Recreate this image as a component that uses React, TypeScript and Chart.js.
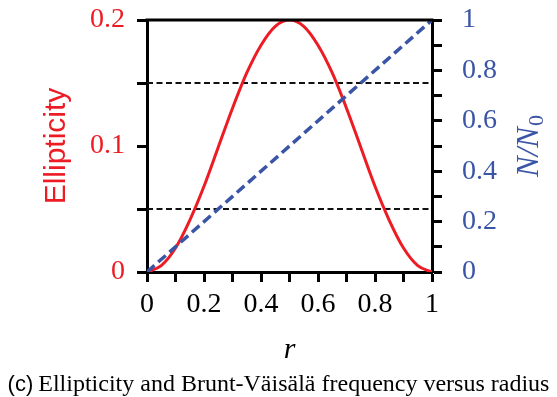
import { useEffect, useRef } from "react";
import { Chart, registerables } from "chart.js";

Chart.register(...registerables);

// ---- data ----
const radius = [0, 0.05, 0.1, 0.15, 0.2, 0.25, 0.3, 0.35, 0.4, 0.45, 0.5, 0.55, 0.6, 0.65, 0.7, 0.75, 0.8, 0.85, 0.9, 0.95, 1];
const ellipticity = [0, 0.005, 0.019, 0.041, 0.068, 0.099, 0.130, 0.158, 0.180, 0.195, 0.2, 0.195, 0.180, 0.158, 0.130, 0.099, 0.068, 0.041, 0.019, 0.005, 0];
const freqRadius = [0, 1];
const freqValues = [0, 1];
const refLevels = [0.05, 0.15];

const xLabels = ["0", "0.2", "0.4", "0.6", "0.8", "1"];
const leftLabels = ["0", "0.1", "0.2"];
const rightLabels = ["0", "0.2", "0.4", "0.6", "0.8", "1"];

const captionTag = "(c)";
const captionText = "Ellipticity and Brunt-Väisälä frequency versus radius";

const RED = "#ed1c24";
const BLUE = "#3b55a6";
const SERIF = "'Liberation Serif', 'DejaVu Serif', serif";
const SANS = "'Liberation Sans', Arial, sans-serif";

function fmt(v: number, labels: string[]) {
  const s = String(Math.round(v * 1000) / 1000);
  return labels.includes(s) ? s : "";
}

const titlesPlugin = {
  id: "titles",
  afterDraw(chart: any) {
    const { ctx, chartArea } = chart;
    const { left, right, top, bottom } = chartArea;
    const cy = (top + bottom) / 2;
    ctx.save();
    // top frame line
    ctx.strokeStyle = "#000";
    ctx.lineWidth = 3;
    ctx.beginPath();
    ctx.moveTo(left - 1.5, top);
    ctx.lineTo(right + 1.5, top);
    ctx.stroke();

    // left title
    ctx.save();
    ctx.translate(left - 90, cy);
    ctx.rotate(-Math.PI / 2);
    ctx.fillStyle = RED;
    ctx.font = `30px ${SANS}`;
    ctx.textAlign = "center";
    ctx.textBaseline = "middle";
    ctx.fillText("Ellipticity", 0, 0);
    ctx.restore();

    // right title N/N0
    ctx.save();
    ctx.translate(right + 96, cy);
    ctx.rotate(-Math.PI / 2);
    ctx.fillStyle = BLUE;
    const mainFont = `italic 31px ${SERIF}`;
    const subFont = `22px ${SERIF}`;
    ctx.font = mainFont;
    const wMain = ctx.measureText("N/N").width;
    ctx.font = subFont;
    const wSub = ctx.measureText("0").width;
    const total = wMain + wSub + 1;
    ctx.textBaseline = "alphabetic";
    ctx.textAlign = "left";
    ctx.font = mainFont;
    ctx.fillText("N/N", -total / 2, 10);
    ctx.font = subFont;
    ctx.fillText("0", -total / 2 + wMain + 1, 15);
    ctx.restore();

    // x title
    ctx.fillStyle = "#000";
    ctx.font = `italic 30px ${SERIF}`;
    ctx.textAlign = "center";
    ctx.textBaseline = "middle";
    ctx.fillText("r", (left + right) / 2, bottom + 78);

    // caption
    const capY = bottom + 113;
    ctx.textBaseline = "middle";
    ctx.textAlign = "left";
    ctx.font = `22px ${SANS}`;
    const wTag = ctx.measureText(captionTag).width;
    ctx.font = `24px ${SERIF}`;
    const wText = ctx.measureText(captionText).width;
    const startX = chart.width / 2 - (wTag + 5 + wText) / 2;
    ctx.font = `22px ${SANS}`;
    ctx.fillText(captionTag, startX, capY);
    ctx.font = `24px ${SERIF}`;
    ctx.fillText(captionText, startX + wTag + 5, capY);
    ctx.restore();
  },
};

export default function App() {
  const ref = useRef<HTMLCanvasElement | null>(null);

  useEffect(() => {
    if (!ref.current) return;
    const gridBase = {
      display: true,
      drawOnChartArea: false,
      drawTicks: true,
      tickLength: 10,
      tickWidth: 3,
      color: "#000",
    };
    const border = { display: true, width: 3, color: "#000" };
    const fitY = (w: number) => (s: any) => {
      s.width = w;
      s.paddingTop = 0;
      s.paddingBottom = 0;
    };
    const chart = new Chart(ref.current, {
      type: "line",
      data: {
        datasets: [
          {
            label: "ellipticity",
            data: radius.map((r, i) => ({ x: r, y: ellipticity[i] })),
            borderColor: RED,
            borderWidth: 3,
            pointRadius: 0,
            cubicInterpolationMode: "monotone",
            yAxisID: "yL",
            order: 1,
          },
          ...refLevels.map((lv) => ({
            label: "ref" + lv,
            data: [
              { x: 0, y: lv },
              { x: 1, y: lv },
            ],
            borderColor: "#111",
            borderWidth: 2,
            borderDash: [6, 3.5],
            pointRadius: 0,
            yAxisID: "yL",
            order: 2,
          })),
          {
            label: "N/N0",
            data: freqRadius.map((r, i) => ({ x: r, y: freqValues[i] })),
            borderColor: BLUE,
            borderWidth: 3.5,
            borderDash: [10, 5],
            pointRadius: 0,
            yAxisID: "yR",
            order: 0,
          },
        ],
      },
      options: {
        animation: false,
        responsive: false,
        events: [],
        layout: { padding: { top: 20, left: 0, right: 0, bottom: 0 } },
        plugins: { legend: { display: false }, tooltip: { enabled: false } },
        scales: {
          x: {
            type: "linear",
            position: "bottom",
            min: 0,
            max: 1,
            ticks: {
              stepSize: 0.1,
              autoSkip: false,
              maxRotation: 0,
              padding: 6,
              color: "#000",
              font: { family: SERIF, size: 28 },
              callback: (v: any) => fmt(Number(v), xLabels),
            },
            grid: gridBase,
            border,
            afterFit: (s: any) => {
              s.height = 125;
              s.paddingLeft = 0;
              s.paddingRight = 0;
            },
          },
          yL: {
            type: "linear",
            position: "left",
            min: 0,
            max: 0.2,
            ticks: {
              stepSize: 0.05,
              autoSkip: false,
              padding: 12,
              color: RED,
              font: { family: SERIF, size: 28 },
              callback: (v: any) => fmt(Number(v), leftLabels),
            },
            grid: gridBase,
            border,
            afterFit: fitY(147),
          },
          yR: {
            type: "linear",
            position: "right",
            min: 0,
            max: 1,
            ticks: {
              stepSize: 0.1,
              autoSkip: false,
              padding: 20,
              color: BLUE,
              font: { family: SERIF, size: 28 },
              callback: (v: any) => fmt(Number(v), rightLabels),
            },
            grid: gridBase,
            border,
            afterFit: fitY(125),
          },
        },
      },
      plugins: [titlesPlugin],
    } as any);
    return () => chart.destroy();
  }, []);

  return (
    <div style={{ position: "absolute", left: 0, top: 0, width: 557, height: 397, background: "#fff" }}>
      <canvas ref={ref} width={557} height={397} />
    </div>
  );
}
